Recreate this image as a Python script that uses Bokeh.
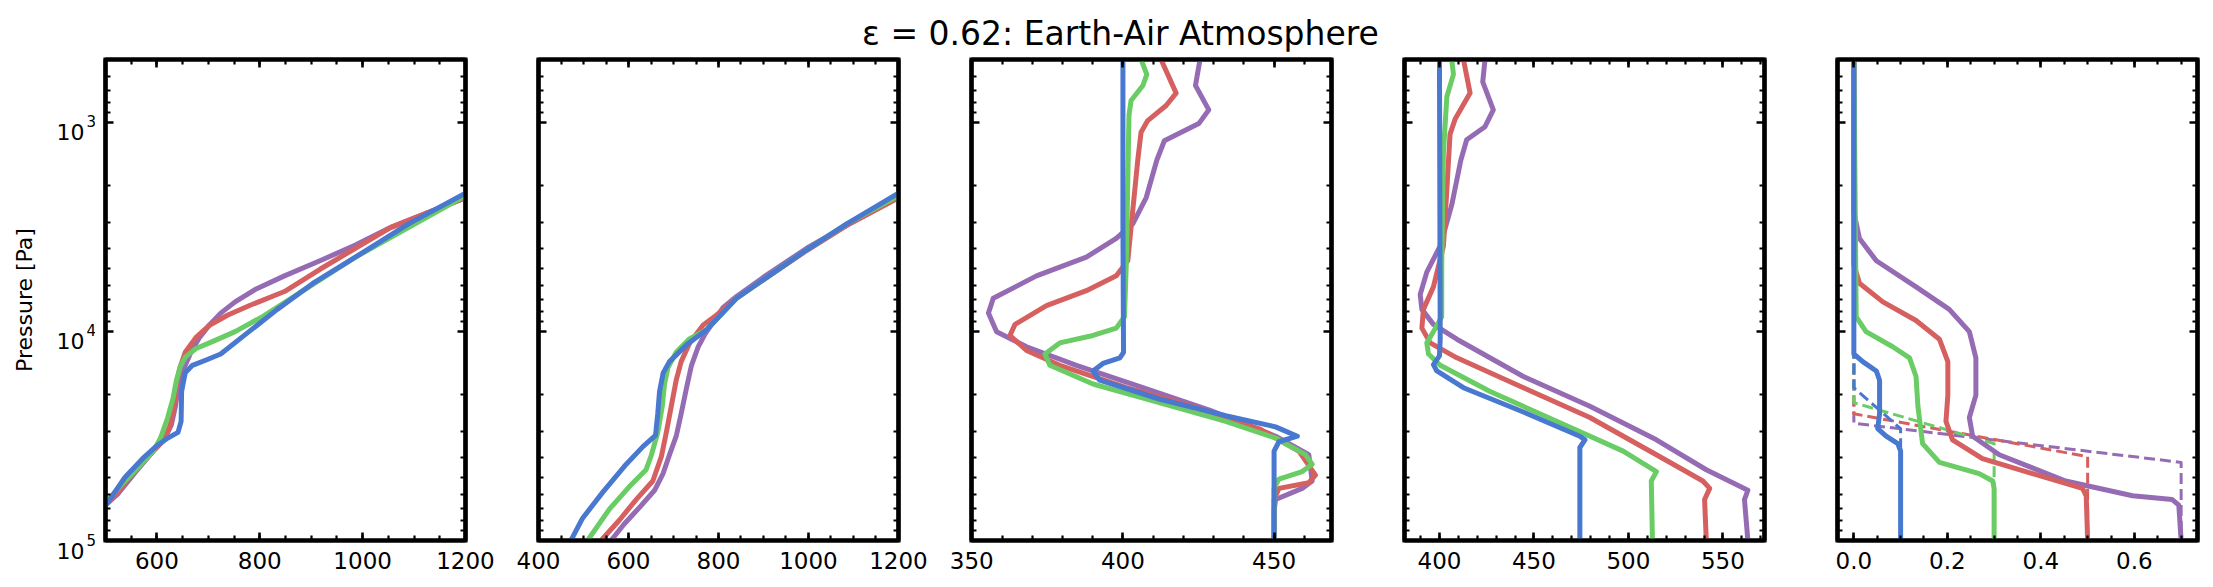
import math
from bokeh.plotting import figure
from bokeh.layouts import row, column
from bokeh.models import (Range1d, FixedTicker, SingleIntervalTicker, LinearAxis,
                          CustomJSTickFormatter, NumeralTickFormatter, Div)
from bokeh.core.properties import value
from bokeh.embed import file_html
from bokeh.resources import INLINE

FONT = "DejaVu Sans"
COLORS = {"blue": "#4878D0", "green": "#6ACC64", "red": "#D65F5F", "purple": "#956CB4"}
ORDER = ["purple", "red", "green", "blue"]

TITLE = "ε = 0.62: Earth-Air Atmosphere"
YLABEL = "Pressure [Pa]"
Y_MAJOR = [1000, 10000, 100000]
Y_MINOR = [600, 700, 800, 900, 2000, 3000, 4000, 5000, 6000, 7000, 8000, 9000,
           20000, 30000, 40000, 50000, 60000, 70000, 80000, 90000]
Y_BASE = ["10", "10", "10"]
Y_EXP = ["3", "4", "5"]

# ---------------- Panel 1 (temperature) ----------------
p1_blue_T = [1200, 1090, 986, 903, 834, 779, 724, 697, 669, 655, 648, 647, 641, 621, 600, 572, 538, 503, 490]
p1_blue_P = [2180, 3050, 4410, 5890, 7840, 10020, 12820, 13650, 14520, 15780, 19370, 26900, 30400, 32360, 35190, 40600, 49800, 66400, 72000]
p1_green_T = [1200, 986, 807, 752, 710, 676, 655, 645, 638, 631, 621, 607, 593, 566, 531, 503, 490]
p1_green_P = [2240, 4410, 8440, 10020, 11120, 12070, 13270, 14830, 17110, 21000, 25800, 32350, 37360, 44000, 54100, 65000, 71000]
p1_red_T = [1200, 1055, 917, 848, 779, 738, 703, 676, 655, 645, 638, 633, 626, 614, 593, 559, 524, 507, 490]
p1_red_P = [2290, 3175, 5040, 6440, 7530, 8340, 9310, 10670, 12580, 14830, 17840, 22800, 28000, 33000, 37360, 45800, 58600, 65000, 71000]
p1_purple_T = [1200, 1055, 986, 917, 848, 793, 752, 724, 703, 683, 666, 652, 641, 636, 628, 614, 593, 559, 524, 507, 490]
p1_purple_P = [2290, 3175, 3860, 4590, 5420, 6260, 7220, 8170, 9250, 10670, 12580, 15140, 18600, 22800, 28000, 33000, 37360, 46800, 59800, 65400, 71000]

# ---------------- Panel 2 ----------------
p2_blue_T = [1200, 1086, 996, 900, 840, 773, 729, 691, 677, 669, 665, 660, 632, 595, 543, 498, 472]
p2_blue_P = [2180, 3050, 4070, 5650, 6940, 9830, 11590, 13940, 15780, 19370, 24770, 31420, 35560, 43150, 58700, 78200, 100000]
p2_green_T = [1200, 1086, 996, 900, 840, 773, 736, 706, 688, 680, 675, 665, 651, 639, 602, 558, 509]
p2_green_P = [2240, 3050, 4070, 5650, 6940, 9830, 10820, 12590, 14830, 17840, 22800, 30420, 38900, 45880, 55200, 70600, 100000]
p2_red_T = [1200, 1086, 996, 900, 840, 796, 766, 736, 717, 706, 695, 684, 673, 654, 617, 580, 539]
p2_red_P = [2290, 3100, 4100, 5650, 6940, 8340, 9310, 11340, 13940, 17110, 22800, 30420, 39700, 51900, 63700, 79800, 100000]
p2_purple_T = [1200, 1086, 996, 900, 840, 810, 790, 770, 755, 740, 729, 717, 706, 691, 677, 658, 625, 591, 561]
p2_purple_P = [2290, 3100, 4000, 5500, 6800, 7700, 8900, 10300, 11830, 14520, 18580, 24770, 31700, 38900, 47700, 57500, 69200, 83200, 100000]

# ---------------- Panel 3 ----------------
p3_blue_T = [400, 400, 400.2, 399, 393.4, 390.1, 392.3, 412, 434, 450.5, 457.7, 451.6, 450, 450]
p3_blue_P = [500, 3175, 12590, 13370, 14220, 15450, 17110, 21040, 25290, 28600, 31700, 33700, 37360, 100000]
p3_green_T = [406, 407.9, 406.6, 402.7, 402, 401.1, 400.5, 397.8, 390.1, 379.1, 374.2, 375.8, 390.1, 412, 434, 450.5, 460.4, 462.6, 459.3, 451.6, 450, 450]
p3_green_P = [500, 589, 666, 785, 926, 4788, 8510, 9640, 10450, 11340, 12820, 14520, 17840, 21900, 26900, 32350, 38900, 43150, 46800, 50800, 56340, 100000]
p3_red_T = [412.6, 417.6, 414.3, 408.2, 406, 404.9, 402.7, 401.6, 397.8, 387.9, 374.7, 364.3, 362.6, 368.1, 379.1, 401.1, 423.1, 445.1, 458.2, 463.7, 461.5, 451.6, 450, 450]
p3_red_P = [500, 724, 830, 980, 1115, 1517, 3175, 4590, 5420, 6380, 7520, 9250, 10450, 12330, 14520, 18580, 22800, 29200, 37360, 48700, 52900, 56340, 63700, 100000]
p3_purple_T = [425.5, 424.0, 428.4, 425.1, 413.7, 411.2, 407.7, 403.3, 397.8, 387.9, 371.4, 357.1, 355.5, 358.2, 368.1, 384.6, 406.6, 428.6, 450.5, 461.5, 462.6, 459.3, 450.5, 450, 450]
p3_purple_P = [500, 666, 871, 1013, 1224, 1517, 2287, 3050, 3590, 4410, 5420, 6940, 8170, 10020, 11830, 14520, 18580, 23760, 31700, 38900, 51900, 56340, 63700, 72100, 100000]

# ---------------- Panel 4 ----------------
p4_blue_T = [400, 400.4, 400, 396.8, 398.6, 412.7, 444.4, 474.3, 477, 474.3, 474.3]
p4_blue_P = [500, 10890, 13090, 14400, 15450, 18580, 24270, 31700, 33000, 35900, 100000]
p4_green_T = [406.5, 407.4, 403.9, 402.1, 401.2, 401.2, 396.8, 393.3, 394.2, 400.4, 426.8, 462, 497.2, 514.8, 512.1, 512.7]
p4_green_P = [500, 589, 754, 1396, 4788, 8510, 10020, 11340, 12820, 14520, 19370, 26900, 37360, 46800, 51900, 100000]
p4_red_T = [412.7, 416.2, 408.3, 405.6, 403.9, 402.1, 396.8, 391.5, 390.7, 395.1, 409.2, 444.4, 479.6, 514.8, 539.4, 543, 540.3, 541.2]
p4_red_P = [500, 724, 964, 1137, 2104, 3899, 6120, 7840, 9640, 11340, 13370, 18580, 25800, 38900, 51900, 56340, 63700, 100000]
p4_purple_T = [424.1, 422.9, 428.5, 424.1, 414.4, 411.3, 406.5, 400.4, 393.3, 389.8, 390.7, 396.8, 409.2, 444.4, 479.6, 514.8, 541.2, 563.2, 561.4, 563.2]
p4_purple_P = [500, 640, 871, 1048, 1210, 1517, 2480, 3899, 5200, 6650, 7840, 9250, 10890, 16420, 22800, 33000, 45880, 57500, 63700, 100000]

# ---------------- Panel 5 (solid) ----------------
p5_blue_X = [0, 0, 0.019, 0.048, 0.055, 0.055, 0.051, 0.069, 0.094, 0.1, 0.1]
p5_blue_P = [500, 12820, 13940, 15450, 17110, 24770, 29200, 31700, 34400, 37360, 100000]
p5_green_X = [0, 0.005, 0.026, 0.083, 0.119, 0.133, 0.137, 0.147, 0.183, 0.268, 0.297, 0.3, 0.3]
p5_green_P = [500, 8510, 10020, 11830, 13370, 16420, 22800, 34400, 42300, 47860, 51900, 56340, 100000]
p5_red_X = [0, 0, 0.012, 0.062, 0.133, 0.183, 0.201, 0.201, 0.197, 0.211, 0.275, 0.382, 0.489, 0.497, 0.5]
p5_red_P = [500, 4788, 5880, 7220, 8867, 10890, 13940, 20170, 26900, 33000, 40600, 47860, 56340, 61100, 100000]
p5_purple_X = [0, 0, 0.012, 0.048, 0.133, 0.204, 0.247, 0.261, 0.261, 0.247, 0.254, 0.311, 0.453, 0.596, 0.681, 0.695, 0.7]
p5_purple_P = [500, 2690, 3590, 4590, 6120, 7840, 10020, 13370, 20170, 25800, 31700, 38900, 51900, 61100, 63700, 67700, 100000]

# ---------------- Panel 5 (dashed) ----------------
p5d_blue_X = [0, 0, 0.1, 0.1]
p5d_blue_P = [500, 18580, 29200, 100000]
p5d_green_X = [0, 0, 0.3, 0.3]
p5d_green_P = [500, 21900, 34400, 100000]
p5d_red_X = [0, 0, 0.5, 0.5]
p5d_red_P = [500, 24770, 39700, 100000]
p5d_purple_X = [0, 0, 0.7, 0.7]
p5d_purple_P = [500, 27480, 42300, 100000]

FRAME_W, FRAME_H = 360, 481
LABEL_W = 95          # width of the strip that holds the y tick labels and y-axis title
P1_GAP = 10           # border between that strip and the first frame
STRIP_EXTRA = 40      # strip extends below the panel frames so the lowest label is not cut
LW = 4.2
CURVE_W = 5

Y_BOTTOM, Y_TOP = 100000, 500
y_range = Range1d(Y_BOTTOM, Y_TOP)
PX_PER_DECADE = FRAME_H / math.log10(Y_BOTTOM / Y_TOP)


def shift_down(v, px):
    """Pressure that lies px screen pixels below pressure v on the shared log axis."""
    return v * 10 ** (px / PX_PER_DECADE)


def style_axis(ax, show_labels):
    ax.axis_line_width = LW
    ax.axis_line_color = "black"
    ax.major_tick_in = 8
    ax.major_tick_out = 0
    ax.minor_tick_in = 5
    ax.minor_tick_out = 0
    ax.major_tick_line_width = 2.6
    ax.minor_tick_line_width = 2.2
    ax.major_tick_line_color = "black"
    ax.minor_tick_line_color = "black"
    ax.major_label_text_font = FONT
    ax.major_label_text_color = "black"
    if show_labels:
        ax.major_label_text_font_size = "23px"
        ax.major_label_standoff = 11
    else:
        ax.formatter = CustomJSTickFormatter(code="return '';")
        ax.major_label_text_font_size = "1px"
        ax.major_label_standoff = 0


def ylog_ticker():
    return FixedTicker(ticks=Y_MAJOR, minor_ticks=Y_MINOR)


def make_panel(xr, interval, n_minor, left_border, right_border, xfmt=None):
    p = figure(frame_width=FRAME_W, frame_height=FRAME_H, title=None,
               x_range=Range1d(*xr), y_range=y_range,
               y_axis_type="log", output_backend="svg", toolbar_location=None,
               min_border_left=left_border, min_border_right=right_border,
               min_border_top=8, min_border_bottom=40)
    p.xgrid.visible = False
    p.ygrid.visible = False
    p.outline_line_color = "black"
    p.outline_line_width = LW
    p.outline_line_join = "miter"
    p.background_fill_color = "white"
    p.border_fill_color = "white"

    p.xaxis.ticker = SingleIntervalTicker(interval=interval, num_minor_ticks=n_minor)
    style_axis(p.xaxis[0], True)
    if xfmt is not None:
        p.xaxis.formatter = NumeralTickFormatter(format=xfmt)

    p.yaxis.ticker = ylog_ticker()
    style_axis(p.yaxis[0], False)

    top = LinearAxis(ticker=SingleIntervalTicker(interval=interval, num_minor_ticks=n_minor))
    style_axis(top, False)
    p.add_layout(top, "above")
    right = LinearAxis(ticker=ylog_ticker())
    style_axis(right, False)
    p.add_layout(right, "right")
    return p


def draw(p, xs, ps, color, dashed=False):
    if dashed:
        p.line(xs, ps, line_color=color, line_width=3, line_dash="11 5", line_join="round")
    else:
        p.line(xs, ps, line_color=color, line_width=CURVE_W, line_join="round")


# strip with the shared y tick labels (10 + superscript exponent) and the y-axis title;
# its x coordinate is "pixels relative to the first frame's left edge"; its frame runs
# STRIP_EXTRA pixels further down than the panels so the 10^5 label is not clipped.
strip_range = Range1d(shift_down(Y_BOTTOM, STRIP_EXTRA), Y_TOP)
lab = figure(frame_width=LABEL_W, frame_height=FRAME_H + STRIP_EXTRA, title=None,
             x_range=Range1d(-(LABEL_W + P1_GAP), -P1_GAP), y_range=strip_range,
             y_axis_type="log", output_backend="svg", toolbar_location=None,
             x_axis_location=None, y_axis_location=None,
             min_border_left=0, min_border_right=0, min_border_top=8, min_border_bottom=0)
lab.outline_line_color = None
lab.xgrid.visible = False
lab.ygrid.visible = False
lab.text(x=[-21] * len(Y_MAJOR), y=[shift_down(v, 10) for v in Y_MAJOR], text=Y_BASE,
         text_font=value(FONT), text_font_size=value("22px"), text_align="right",
         text_baseline="alphabetic", text_color="black")
lab.text(x=[-19] * len(Y_MAJOR), y=[shift_down(v, -1) for v in Y_MAJOR], text=Y_EXP,
         text_font=value(FONT), text_font_size=value("15px"), text_align="left",
         text_baseline="alphabetic", text_color="black")
lab.text(x=[-81], y=[math.sqrt(Y_BOTTOM * Y_TOP)], text=[YLABEL],
         text_font=value(FONT), text_font_size=value("22px"), text_align="center",
         text_baseline="middle", angle=math.pi / 2, text_color="black")

p1 = make_panel((500, 1200.01), 200, 4, P1_GAP, 36)
p2 = make_panel((399.99, 1200.01), 200, 4, 37, 36)
p3 = make_panel((349.9, 469.0), 50, 5, 37, 36)
p4 = make_panel((381.5, 572.0), 50, 5, 37, 36)
p5 = make_panel((-0.035, 0.735), 0.2, 4, 37, 7, xfmt="0.0")

data1 = {"blue": (p1_blue_T, p1_blue_P), "green": (p1_green_T, p1_green_P),
         "red": (p1_red_T, p1_red_P), "purple": (p1_purple_T, p1_purple_P)}
data2 = {"blue": (p2_blue_T, p2_blue_P), "green": (p2_green_T, p2_green_P),
         "red": (p2_red_T, p2_red_P), "purple": (p2_purple_T, p2_purple_P)}
data3 = {"blue": (p3_blue_T, p3_blue_P), "green": (p3_green_T, p3_green_P),
         "red": (p3_red_T, p3_red_P), "purple": (p3_purple_T, p3_purple_P)}
data4 = {"blue": (p4_blue_T, p4_blue_P), "green": (p4_green_T, p4_green_P),
         "red": (p4_red_T, p4_red_P), "purple": (p4_purple_T, p4_purple_P)}
data5 = {"blue": (p5_blue_X, p5_blue_P), "green": (p5_green_X, p5_green_P),
         "red": (p5_red_X, p5_red_P), "purple": (p5_purple_X, p5_purple_P)}
data5d = {"blue": (p5d_blue_X, p5d_blue_P), "green": (p5d_green_X, p5d_green_P),
          "red": (p5d_red_X, p5d_red_P), "purple": (p5d_purple_X, p5d_purple_P)}

for p, d in ((p1, data1), (p2, data2), (p3, data3), (p4, data4)):
    for c in ORDER:
        draw(p, d[c][0], d[c][1], COLORS[c])
for c in ORDER:
    draw(p5, data5d[c][0], data5d[c][1], COLORS[c], dashed=True)
for c in ORDER:
    draw(p5, data5[c][0], data5[c][1], COLORS[c])

header = Div(text=TITLE, width=2197, height=41,
             styles={"font-family": "DejaVu Sans", "font-size": "33px", "color": "black",
                     "text-align": "center", "line-height": "33px", "padding-top": "12px",
                     "padding-left": "34px", "box-sizing": "border-box",
                     "width": "2197px", "height": "41px", "overflow": "visible",
                     "white-space": "nowrap"})

layout = column(header, row(lab, p1, p2, p3, p4, p5, spacing=0), spacing=0)

with open("out.html", "w") as f:
    f.write(file_html(layout, INLINE, "Earth-Air Atmosphere"))
